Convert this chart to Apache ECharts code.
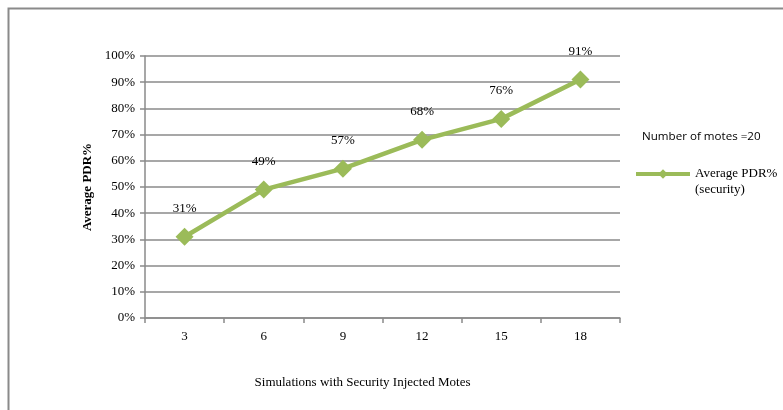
<!DOCTYPE html>
<html>
<head>
<meta charset="utf-8">
<script src="https://cdn.jsdelivr.net/npm/echarts@6/dist/echarts.min.js"></script>
<style>
  html, body { margin: 0; padding: 0; background: #fff; }
  #chart { width: 783px; height: 410px; }
</style>
</head>
<body>
<div id="chart"></div>
<script>
// chart data
var categories = ['3', '6', '9', '12', '15', '18'];
var pdrValues = [31, 49, 57, 68, 76, 91];
var seriesName = 'Average PDR%\n(security)';

var myChart = echarts.init(document.getElementById('chart'));

var serif = '"Liberation Serif", "DejaVu Serif", serif';

var option = {
    backgroundColor: '#fff',
    animation: false,
    graphic: [{
        type: 'rect',
        shape: { x: 8.5, y: 8.5, width: 800, height: 420 },
        style: { fill: 'none', stroke: '#8a8a8a', lineWidth: 2 }
    }],
    title: {
        text: 'Number of motes =20',
        left: 637,
        top: 126,
        textStyle: {
            fontFamily: '"Open Sans", "Liberation Sans", sans-serif',
            fontSize: 11.6,
            fontWeight: 'normal',
            color: '#000'
        }
    },
    legend: {
        left: 634,
        top: 150,
        padding: 0,
        orient: 'vertical',
        itemWidth: 54,
        itemHeight: 12,
        itemGap: 4,
        data: [seriesName],
        lineStyle: { width: 4 },
        // blank first line so that "Average PDR%" sits level with the icon
        formatter: function (name) {
            return '\n' + name;
        },
        textStyle: {
            fontFamily: serif,
            fontSize: 13,
            color: '#000',
            lineHeight: 16
        }
    },
    grid: {
        left: 145,
        right: 163,
        top: 56,
        bottom: 92
    },
    xAxis: {
        type: 'category',
        data: categories,
        name: 'Simulations with Security Injected Motes',
        nameLocation: 'middle',
        nameGap: 58,
        nameTextStyle: { fontFamily: serif, fontSize: 13, color: '#000', padding: [0, 40, 0, 0] },
        axisLine: { lineStyle: { color: '#8a8a8a', width: 1.5 } },
        axisTick: { show: true, length: 5, lineStyle: { color: '#8a8a8a', width: 1.5 } },
        axisLabel: { fontFamily: serif, fontSize: 13, color: '#000', margin: 12 }
    },
    yAxis: {
        type: 'value',
        min: 0,
        max: 100,
        interval: 10,
        name: 'Average PDR%',
        nameLocation: 'middle',
        nameGap: 50,
        nameTextStyle: { fontFamily: serif, fontSize: 13, fontWeight: 'bold', color: '#000' },
        axisLine: { show: true, lineStyle: { color: '#8a8a8a', width: 1.5 } },
        axisTick: { show: true, length: 5, lineStyle: { color: '#8a8a8a', width: 1.5 } },
        axisLabel: {
            fontFamily: serif,
            fontSize: 13,
            color: '#000',
            margin: 10,
            formatter: '{value}%'
        },
        splitLine: { lineStyle: { color: '#8a8a8a', width: 1.5 } }
    },
    series: [{
        name: seriesName,
        type: 'line',
        data: pdrValues,
        symbol: 'diamond',
        symbolSize: 18,
        color: '#9bbb59',
        lineStyle: { width: 4.5, color: '#9bbb59' },
        itemStyle: { color: '#9bbb59' },
        label: {
            show: true,
            position: 'top',
            distance: 13,
            fontFamily: serif,
            fontSize: 13,
            color: '#000',
            formatter: '{c}%'
        }
    }]
};

myChart.setOption(option);
</script>
</body>
</html>
